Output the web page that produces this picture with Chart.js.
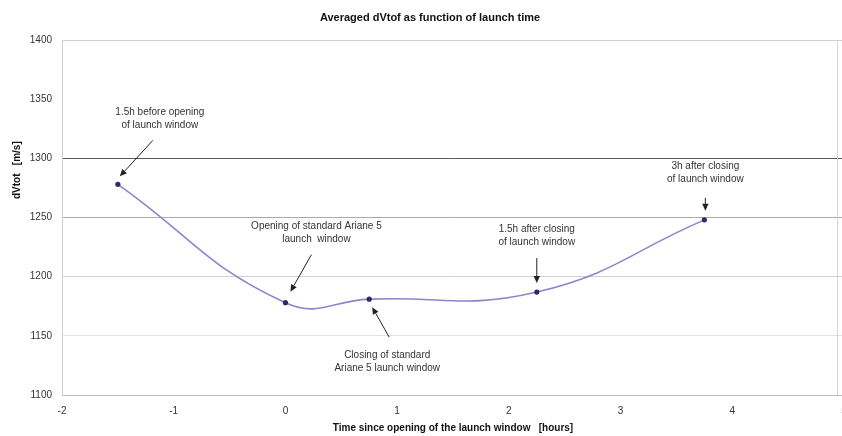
<!DOCTYPE html>
<html>
<head>
<meta charset="utf-8">
<script src="https://cdn.jsdelivr.net/npm/chart.js@4/dist/chart.umd.min.js"></script>
<style>
  html, body { margin: 0; padding: 0; background: #fff; overflow: hidden; }
  /* the scanned figure is cut just before x = 5, so the canvas runs a bit past the window */
  #wrap { width: 848px; height: 436px; position: relative; }
</style>
</head>
<body>
<div id="wrap"><canvas id="chart"></canvas></div>
<script>
// values
const launchTimes = [-1.5, 0, 0.75, 2.25, 3.75];
const dVtot = [1278, 1178, 1181, 1187, 1248];
const xTicks = [-2, -1, 0, 1, 2, 3, 4, 5];
const yTicks = [1100, 1150, 1200, 1250, 1300, 1350, 1400];
const noteTexts = [
    ['1.5h before opening', 'of launch window'],
    ['Opening of standard Ariane 5', 'launch  window'],
    ['Closing of standard', 'Ariane 5 launch window'],
    ['1.5h after closing', 'of launch window'],
    ['3h after closing', 'of launch window']
];

// where the label and arrow sit, relative to its point (px)
const noteOffsets = [
    { text: [42, -72], tail: [35, -44], tip: [2, -8] },
    { text: [31, -76], tail: [26, -48], tip: [5, -11] },
    { text: [18, 56], tail: [20, 38], tip: [3, 8] },
    { text: [0, -63], tail: [0, -34], tip: [0, -9] },
    { text: [1, -54], tail: [1, -22], tip: [1, -9] }
];

const FONT = "'Liberation Sans', Arial, sans-serif";

function gridColor(v) {
    if (v === 1300) return '#5a5a5a';
    if (v === 1250) return '#a6a6d6';
    if (v === 1350) return 'rgba(0,0,0,0)';
    if (v === 1150) return '#e2e2e2';
    return '#cfcfcf';
}

function arrow(ctx, x1, y1, x2, y2) {
    const a = Math.atan2(y2 - y1, x2 - x1);
    const h = 7, w = 3.2;
    ctx.beginPath();
    ctx.moveTo(x1, y1);
    ctx.lineTo(x2 - Math.cos(a) * h, y2 - Math.sin(a) * h);
    ctx.stroke();
    ctx.beginPath();
    ctx.moveTo(x2, y2);
    ctx.lineTo(x2 - Math.cos(a) * h - Math.sin(a) * w, y2 - Math.sin(a) * h + Math.cos(a) * w);
    ctx.lineTo(x2 - Math.cos(a) * h + Math.sin(a) * w, y2 - Math.sin(a) * h - Math.cos(a) * w);
    ctx.closePath();
    ctx.fill();
}

const notesPlugin = {
    id: 'notes',
    afterDatasetsDraw(chart) {
        const ctx = chart.ctx;
        const xs = chart.scales.x, ys = chart.scales.y;
        const area = chart.chartArea;
        ctx.save();
        // right frame line of the plot, as it shows in the scan
        const rx = 837.5;
        ctx.strokeStyle = '#d4d4d4';
        ctx.lineWidth = 1;
        ctx.beginPath();
        ctx.moveTo(rx, area.top);
        ctx.lineTo(rx, area.bottom);
        ctx.stroke();

        ctx.font = '10px ' + FONT;
        ctx.fillStyle = '#333';
        ctx.strokeStyle = '#222';
        ctx.textAlign = 'center';
        ctx.textBaseline = 'middle';
        noteTexts.forEach(function (lines, i) {
            const px = xs.getPixelForValue(launchTimes[i]);
            const py = ys.getPixelForValue(dVtot[i]);
            const o = noteOffsets[i];
            lines.forEach(function (t, k) {
                ctx.fillText(t, px + o.text[0], py + o.text[1] + k * 13);
            });
            ctx.fillStyle = '#222';
            arrow(ctx, px + o.tail[0], py + o.tail[1], px + o.tip[0], py + o.tip[1]);
            ctx.fillStyle = '#333';
        });

        // chart title and y title
        ctx.font = 'bold 11px ' + FONT;
        ctx.fillStyle = '#111';
        ctx.fillText('Averaged dVtof as function of launch time', 430, 18);
        ctx.translate(17, ys.getPixelForValue(1290));
        ctx.rotate(-Math.PI / 2);
        ctx.font = 'bold 10px ' + FONT;
        ctx.fillText('dVtot   [m/s]', 0, 0);
        ctx.restore();
    }
};

new Chart(document.getElementById('chart').getContext('2d'), {
    type: 'scatter',
    data: {
        datasets: [{
            data: launchTimes.map(function (t, i) { return { x: t, y: dVtot[i] }; }),
            showLine: true,
            tension: 0.45,
            borderColor: '#8a86cc',
            borderWidth: 1.6,
            pointRadius: 2.6,
            pointBackgroundColor: '#2b2b6b',
            pointBorderColor: '#2b2b6b',
            pointBorderWidth: 0
        }]
    },
    options: {
        responsive: true,
        maintainAspectRatio: false,
        animation: false,
        layout: { padding: { top: 40, right: 4, left: 0, bottom: 0 } },
        plugins: {
            legend: { display: false },
            tooltip: { enabled: false }
        },
        scales: {
            x: {
                type: 'linear',
                min: -2,
                max: 5,
                afterBuildTicks: function (s) { s.ticks = xTicks.map(function (v) { return { value: v }; }); },
                afterFit: function (s) { s.height = 41; s.paddingRight = 0; },
                grid: { display: false, drawTicks: false },
                border: { display: true, color: '#bdbdbd', width: 1 },
                ticks: {
                    padding: 10,
                    color: '#333',
                    font: { family: FONT, size: 10 },
                    callback: function (v) { return String(v); }
                },
                title: {
                    display: true,
                    text: 'Time since opening of the launch window   [hours]',
                    color: '#111',
                    font: { family: FONT, size: 10, weight: 'bold' },
                    padding: { top: 2, bottom: 2 }
                }
            },
            y: {
                min: 1100,
                max: 1400,
                afterBuildTicks: function (s) { s.ticks = yTicks.map(function (v) { return { value: v }; }); },
                afterFit: function (s) { s.width = 62; },
                grid: {
                    drawTicks: false,
                    color: function (c) { return gridColor(c.tick ? c.tick.value : 0); },
                    lineWidth: 1
                },
                border: { display: true, color: '#d0d0d0', width: 1 },
                ticks: {
                    padding: 10,
                    color: '#333',
                    font: { family: FONT, size: 10 },
                    callback: function (v) { return String(v); }
                }
            }
        }
    },
    plugins: [notesPlugin]
});
</script>
</body>
</html>
